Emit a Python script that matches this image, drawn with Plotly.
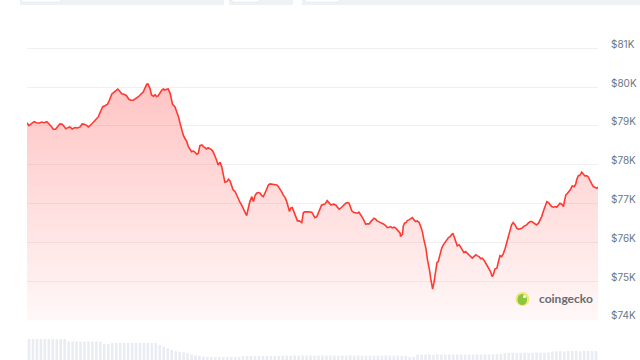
import plotly.graph_objects as go

# ---- data ----
minutes = [0,5,12,18,24,30,37,43,50,56,62,66,72,77,83,89,94,98,103,108,114,121,127,134,139,145,151,155,161,167,
           174,180,186,191,197,203,208,214,219,224,229,235,239,245,251,257,262,268,274,281,287,293,298,302,305,310,314,319,323,327,
           331,335,340,344,348,352,356,361,365,367,373,378,382,386,390,394,398,403,407,411,415,419,424,428,432,436,441,445,449,453,
           457,462,466,470,474,478,482,487,491,495,499,504,508,512,516,520,525,529,533,537,541,546,550,554,558,562,567,571,575,579,
           583,588,592,596,600,605,609,613,617,621,625,630,634,638,642,646,651,655,659,662,665,669,673,678,682,687,693,697,701,709,
           718,722,726,731,735,739,743,747,752,757,762,766,770,774,779,783,787,791,795,799,804,808,812,816,819,823,829,833,837,842,
           846,850,854,858,863,867,871,875,879,883,888,892,896,900,905,909,913,917,921,926,930,934,938,941,942,947,949,952,956,959,
           963,968,972,976,980,984,989,993,997,1001,1006,1010,1012,1015,1018,1021,1023,1026,1029,1032,1034,1037,1042,1046,1050,1054,1058,1063,1067,1071,
           1074,1077,1081,1085,1090,1094,1098,1102,1106,1110,1115,1119,1123,1127,1132,1136,1140,1144,1148,1153,1157,1161,1165,1169,1173,1176,1180,1185,1189,1193,
           1197,1201,1206,1210,1214,1218,1222,1226,1231,1235,1239,1243,1248,1252,1256,1260,1264,1269,1273,1277,1281,1285,1290,1294,1298,1302,1306,1311,1315,1319,
           1323,1327,1332,1336,1340,1344,1348,1353,1355,1359,1363,1367,1371,1375,1380,1384,1386,1390,1395,1399,1403,1407,1412,1416,1420,1424,1428,1432,1437,1440]

price = [79084,79007,79069,79110,79084,79069,79102,79084,79110,79051,78981,78914,78914,78981,79051,79043,78981,78930,78956,78974,
         78922,78956,78948,78974,79051,79043,79007,78974,79025,79095,79172,79239,79386,79497,79522,79559,79669,79824,79868,79901,
         79953,79883,79832,79816,79780,79687,79662,79662,79703,79754,79816,79876,79986,80074,80082,79971,79798,79765,79806,79754,
         79780,79842,79927,79953,79927,79945,79953,79842,79669,79559,79497,79368,79239,79069,78896,78767,78682,78595,78466,78381,
         78337,78355,78322,78270,78296,78492,78510,78466,78425,78407,78440,78407,78381,78322,78234,78123,77994,78064,77951,77693,
         77549,77564,77626,77582,77479,77350,77306,77203,77092,77033,76964,76860,76750,76688,76878,77049,77177,77049,77203,77265,
         77281,77265,77203,77177,77265,77394,77479,77505,77497,77497,77479,77479,77435,77376,77306,77221,77152,77049,76920,76791,
         76878,76894,76791,76636,76551,76551,76507,76765,76783,76783,76775,76706,76636,76662,76750,76853,76964,76971,76989,77074,
         77007,76964,76971,76982,76956,76904,76853,76878,76920,76964,77007,77023,77007,76904,76809,76775,76750,76750,76775,76714,
         76636,76559,76466,76474,76474,76533,76577,76621,76595,76551,76525,76507,76482,76466,76422,76379,76389,76404,76371,76389,
         76363,76319,76275,76234,76147,76208,76422,76492,76507,76559,76577,76610,76636,76577,76533,76551,76507,76404,76275,76062,
         75848,75546,75461,75289,75075,74858,74791,74946,75116,75289,75477,75502,75719,75848,75933,75992,76080,76121,76147,76190,
         76234,76147,76018,75907,75933,75873,75804,75734,75760,75719,75675,75631,75590,75631,75675,75649,75631,75580,75590,75528,
         75461,75374,75332,75245,75116,75160,75307,75332,75502,75657,75631,75701,75848,76018,76190,76319,76448,76507,76448,76363,
         76337,76345,76363,76404,76422,76448,76492,76533,76533,76507,76474,76448,76492,76577,76662,76791,76920,77049,77023,76964,
         76920,76904,76920,76904,76964,77007,76989,76920,77049,77221,77265,77306,77368,77453,77435,77505,77608,77711,77737,77806,
         77762,77711,77711,77677,77590,77505,77435,77420,77394,77420]

volume = [21, 21, 20.8, 21, 21, 20.9, 21, 20.7, 21, 20.8,
          18.6, 18.4, 18.5, 18.3, 18.6, 18.5, 18.4, 18.6, 18.2,
          16.2, 16.0,
          17.2, 17.0, 17.3, 17.1, 16.9, 17.2, 17.0, 17.3, 17.1, 17.2, 17.0, 16.8,
          15.2, 13.5, 11.8, 10.2,
          8.8, 8.1, 7.6, 6.8,
          5.6, 4.8, 4.2, 3.6, 3.2,
          3.0, 2.8, 3.1, 2.9, 3.0, 3.2, 3.0, 3.3,
          3.8, 4.0, 4.1, 3.9, 4.2, 4.0, 4.1, 3.9, 4.2, 4.0, 4.3,
          4.4, 4.2, 4.5, 4.3, 4.6, 4.4, 4.5, 4.2, 4.4, 4.6, 4.3, 4.5, 4.4, 4.2, 4.5, 4.3,
          4.6, 4.4, 4.5, 4.3, 4.4, 4.2, 4.5, 4.3, 4.4, 4.6, 4.3, 4.5, 4.4, 4.2, 4.3,
          3.0, 3.2,
          5.2, 5.4, 5.3, 5.5, 5.1, 5.6, 5.4, 5.2, 5.5, 5.3, 5.6, 5.4, 5.2, 5.5, 5.3, 5.6,
          5.4, 5.5, 5.7, 5.6, 5.8, 6.0,
          6.8, 7.0, 7.2, 6.9, 7.1, 7.3, 7.0, 7.2, 7.4, 7.1, 7.3, 7.5,
          8.4, 8.7, 8.9, 8.6, 9.0, 8.8, 9.1, 8.7, 9.0, 9.2, 8.9, 9.1]
volume_minutes = [10 * i + 5 for i in range(len(volume))]

tick_values = [74000, 75000, 76000, 77000, 78000, 79000, 80000, 81000]
tick_labels = ["$74K", "$75K", "$76K", "$77K", "$78K", "$79K", "$80K", "$81K"]

# ---- figure ----
fig = go.Figure()

fig.add_trace(go.Bar(
    x=volume_minutes, y=volume, yaxis="y2",
    marker=dict(color="#e9ecf2", line=dict(width=0)),
    hoverinfo="skip", showlegend=False,
))

fig.add_trace(go.Scatter(
    x=minutes, y=price, mode="lines",
    line=dict(color="#ff3a33", width=1.6),
    fill="tozeroy",
    fillgradient=dict(
        type="vertical",
        colorscale=[[0, "rgba(255,70,70,0.04)"], [1, "rgba(255,70,70,0.32)"]],
        start=74000, stop=80100,
    ),
    hoverinfo="skip", showlegend=False,
))

W0, W1 = 27, 598
H_TOP, H_BOT = 40, 360
def px(x):
    return (x - W0) / (W1 - W0)
def py(y):
    return (H_BOT - y) / (H_BOT - H_TOP)

shapes = []
# top tab bars (cut off UI)
for a, b in [(20, 224), (229, 293), (302, 642)]:
    shapes.append(dict(type="rect", xref="paper", yref="paper", x0=px(a), x1=px(b), y0=py(5), y1=py(-2),
                       fillcolor="#eff2f5", line=dict(width=0), layer="above"))
for a, b in [(22, 61), (232, 259), (305, 339)]:
    shapes.append(dict(type="rect", xref="paper", yref="paper", x0=px(a), x1=px(b), y0=py(2), y1=py(-2),
                       fillcolor="#ffffff", line=dict(color="#e3e6ea", width=0.6), layer="above"))
# coingecko logo
shapes.append(dict(type="circle", xref="paper", yref="paper", x0=px(515.5), x1=px(529.5), y0=py(306), y1=py(292),
                   fillcolor="#f1e77a", line=dict(width=0), layer="above"))
shapes.append(dict(type="circle", xref="paper", yref="paper", x0=px(517.5), x1=px(527), y0=py(305), y1=py(294),
                   fillcolor="#8cc63f", line=dict(width=0), layer="above"))
shapes.append(dict(type="circle", xref="paper", yref="paper", x0=px(523), x1=px(526), y0=py(298), y1=py(295),
                   fillcolor="#ffffff", line=dict(width=0), layer="above"))

fig.update_layout(
    width=640, height=360,
    margin=dict(l=W0, r=640 - W1, t=H_TOP, b=0),
    paper_bgcolor="white", plot_bgcolor="white",
    bargap=0.35,
    showlegend=False,
    xaxis=dict(range=[0, 1440], visible=False, fixedrange=True),
    yaxis=dict(
        domain=[py(320), 1.0],
        range=[73995, 74000 + 280 / 38.8 * 1000],
        side="right",
        tickvals=tick_values, ticktext=tick_labels,
        showgrid=True, gridcolor="#eff0f3", gridwidth=1,
        zeroline=False, showline=False, ticks="",
        ticklabelstandoff=12, ticklabelshift=-4,
        tickfont=dict(family="Inter, Open Sans, sans-serif", size=10, color="#6b7785"),
    ),
    yaxis2=dict(domain=[0, py(336)], range=[0, 24], visible=False, anchor="x"),
    shapes=shapes,
    annotations=[dict(
        text="<b>coingecko</b>", xref="paper", yref="paper", x=px(537), y=py(298.5),
        xanchor="left", yanchor="middle", showarrow=False,
        font=dict(family="Lato, Inter, sans-serif", size=12, color="#686b70"),
    )],
)

fig.write_html("out.html")
